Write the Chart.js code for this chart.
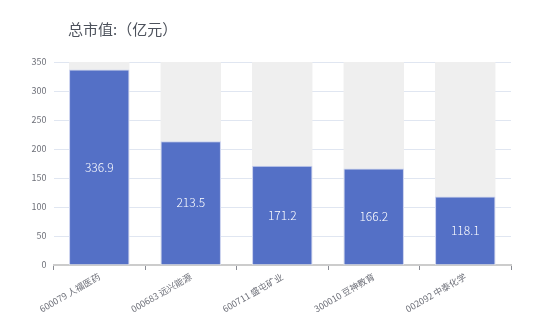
<!DOCTYPE html>
<html>
<head>
<meta charset="utf-8">
<script src="https://cdn.jsdelivr.net/npm/chart.js@4"></script>
<style>
  body { margin: 0; background: #fff; }
  #wrap { position: relative; width: 550px; height: 316px; }
  #title {
    position: absolute; left: 68px; top: 18px;
    font: 15px "Noto Sans CJK SC", "Noto Sans", sans-serif;
    color: #4d525c;
  }
</style>
</head>
<body>
<div id="wrap">
  <div id="title">总市值:（亿元）</div>
  <canvas id="mktChart" width="550" height="316"></canvas>
</div>
<script>
const categories = ["600079 人福医药", "000683 远兴能源", "600711 盛屯矿业", "300010 豆神教育", "002092 中泰化学"];
const marketCap = [336.9, 213.5, 171.2, 166.2, 118.1];
const backdrop = [350, 350, 350, 350, 350];
const yTicks = [0, 50, 100, 150, 200, 250, 300, 350];

const fontFamily = "'Noto Sans CJK SC', 'Noto Sans', sans-serif";

// white value labels centred in each bar
const barLabels = {
    id: "barLabels",
    afterDatasetsDraw(chart) {
        const ctx = chart.ctx;
        const meta = chart.getDatasetMeta(0);
        ctx.save();
        ctx.fillStyle = "#fff";
        ctx.font = "300 12px " + fontFamily;
        ctx.textAlign = "center";
        ctx.textBaseline = "middle";
        meta.data.forEach((bar, i) => {
            ctx.fillText(marketCap[i].toFixed(1), bar.x, (bar.y + bar.base) / 2);
        });
        ctx.restore();
    }
};

const ctx = document.getElementById("mktChart").getContext("2d");

new Chart(ctx, {
    type: "bar",
    data: {
        labels: categories,
        datasets: [
            {
                label: "总市值",
                data: marketCap,
                backgroundColor: "#5470c6",
                borderColor: "#c9d1f0",
                borderWidth: { left: 1, right: 1, top: 1, bottom: 0 },
                order: 1
            },
            {
                label: "bg",
                data: backdrop,
                backgroundColor: "#efefef",
                order: 2
            }
        ]
    },
    options: {
        responsive: false,
        animation: false,
        layout: { padding: { top: 62, right: 39, bottom: 0, left: 0 } },
        datasets: {
            bar: { grouped: false, barPercentage: 0.66, categoryPercentage: 1 }
        },
        plugins: {
            legend: { display: false },
            tooltip: { enabled: false }
        },
        scales: {
            x: {
                grid: {
                    offset: true,
                    drawOnChartArea: false,
                    color: "#8a8c94",
                    tickLength: 5
                },
                border: { color: "#cccccc", width: 2 },
                ticks: {
                    color: "#6e7079",
                    font: { size: 9, family: fontFamily },
                    minRotation: 30,
                    maxRotation: 30,
                    padding: 1
                },
                afterFit(scale) { scale.height = 51; }
            },
            y: {
                min: 0,
                max: 350,
                afterBuildTicks(scale) { scale.ticks = yTicks.map(v => ({ value: v })); },
                grid: { color: "#e0e6f1", drawTicks: false },
                border: { display: false },
                ticks: {
                    color: "#6e7079",
                    font: { size: 9, family: fontFamily },
                    padding: 7
                },
                afterFit(scale) { scale.width = 53.5; }
            }
        }
    },
    plugins: [barLabels]
});
</script>
</body>
</html>
